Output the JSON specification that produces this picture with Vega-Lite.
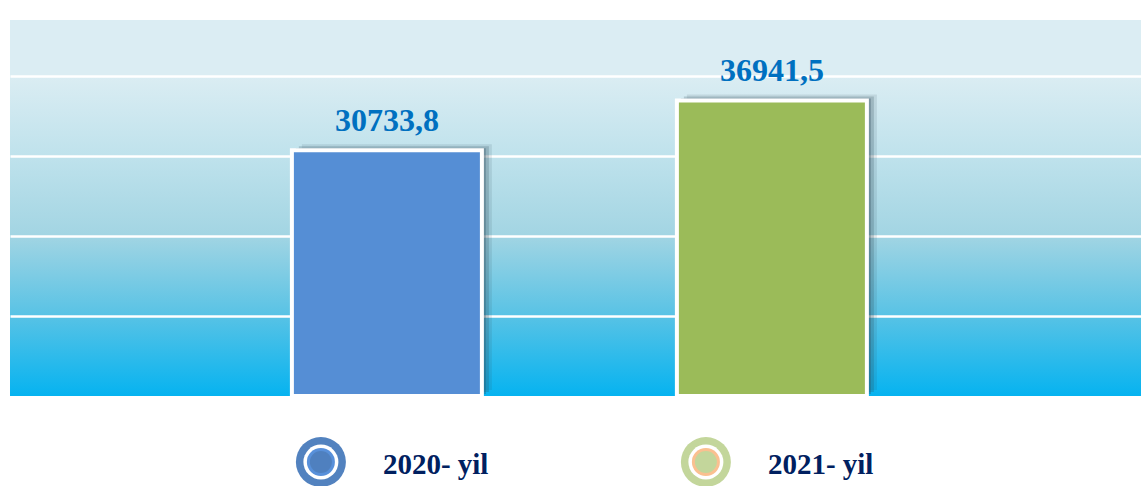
{
  "$schema": "https://vega.github.io/schema/vega-lite/v6.json",
  "padding": {"left": 10, "top": 20, "right": 0, "bottom": 0},
  "background": "white",
  "bounds": "flush",
  "spacing": 42,
  "config": {"view": {"stroke": null}},
  "data": {
    "values": [
      {"year": "2020- yil", "value": 30733.8, "label": "30733,8"},
      {"year": "2021- yil", "value": 36941.5, "label": "36941,5"}
    ]
  },
  "vconcat": [
    {
      "width": 1131,
      "height": 376,
      "view": {
        "stroke": null,
        "fill": {
          "gradient": "linear",
          "x1": 0, "y1": 0, "x2": 0, "y2": 1,
          "stops": [
            {"offset": 0, "color": "#dbedf3"},
            {"offset": 0.146, "color": "#dbedf3"},
            {"offset": 0.36, "color": "#bfe2ec"},
            {"offset": 0.57, "color": "#a3d5e3"},
            {"offset": 0.78, "color": "#5ac3e5"},
            {"offset": 1, "color": "#06b3f0"}
          ]
        }
      },
      "encoding": {
        "x": {
          "field": "year", "type": "nominal", "sort": null, "axis": null,
          "scale": {"type": "band", "domain": ["2020- yil", "2021- yil"], "paddingInner": 0.5065, "paddingOuter": 0.7221, "align": 0.507}
        },
        "y": {
          "field": "value", "type": "quantitative",
          "scale": {"domain": [0, 47000], "nice": false, "zero": true},
          "axis": {"values": [10000, 20000, 30000, 40000], "grid": true, "gridColor": "#ffffff", "gridWidth": 2.5, "gridOpacity": 1, "labels": false, "ticks": false, "domain": false, "title": null}
        }
      },
      "layer": [
        {"mark": {"type": "bar", "color": "#2f4a58", "opacity": 0.12, "xOffset": 10, "yOffset": -6}},
        {"mark": {"type": "bar", "color": "#2f4a58", "opacity": 0.22, "xOffset": 7, "yOffset": -4}},
        {"mark": {"type": "bar", "color": "#2f4a58", "opacity": 0.3, "xOffset": 4, "yOffset": -2}},
        {
          "mark": {"type": "bar", "stroke": "#ffffff", "strokeWidth": 4, "opacity": 1},
          "encoding": {
            "color": {"field": "year", "type": "nominal", "scale": {"domain": ["2020- yil", "2021- yil"], "range": ["#558ed5", "#9bbb59"]}, "legend": null}
          }
        },
        {
          "mark": {"type": "text", "font": "Liberation Serif", "fontWeight": "bold", "fontSize": 32, "color": "#0070c0", "baseline": "alphabetic", "dy": -19},
          "encoding": {"text": {"field": "label"}}
        }
      ]
    },
    {
      "width": 1131,
      "height": 48,
      "encoding": {
        "x": {
          "field": "year", "type": "nominal", "sort": null, "axis": null,
          "scale": {"type": "band", "domain": ["2020- yil", "2021- yil"], "paddingInner": 0.5065, "paddingOuter": 0.7221, "align": 0.507}
        }
      },
      "layer": [
        {
          "mark": {"type": "point", "filled": true, "shape": "circle", "size": 2500, "xOffset": -66, "opacity": 1},
          "encoding": {"color": {"field": "year", "type": "nominal", "scale": {"domain": ["2020- yil", "2021- yil"], "range": ["#5282bf", "#c3d69b"]}, "legend": null}}
        },
        {
          "mark": {"type": "point", "filled": true, "shape": "circle", "size": 1225, "xOffset": -66, "opacity": 1, "color": "#ffffff"}
        },
        {
          "mark": {"type": "point", "filled": true, "shape": "circle", "size": 784, "xOffset": -66, "opacity": 1},
          "encoding": {"color": {"field": "year", "type": "nominal", "scale": {"domain": ["2020- yil", "2021- yil"], "range": ["#5890da", "#fac090"]}, "legend": null}}
        },
        {
          "mark": {"type": "point", "filled": true, "shape": "circle", "size": 484, "xOffset": -66, "opacity": 1},
          "encoding": {"color": {"field": "year", "type": "nominal", "scale": {"domain": ["2020- yil", "2021- yil"], "range": ["#4f80bf", "#c3d69b"]}, "legend": null}}
        },
        {
          "mark": {"type": "text", "align": "left", "baseline": "alphabetic", "dx": -4, "dy": 12, "font": "Liberation Serif", "fontWeight": "bold", "fontSize": 29, "color": "#002060"},
          "encoding": {"text": {"field": "year"}}
        }
      ],
      "resolve": {"scale": {"color": "independent"}}
    }
  ]
}
